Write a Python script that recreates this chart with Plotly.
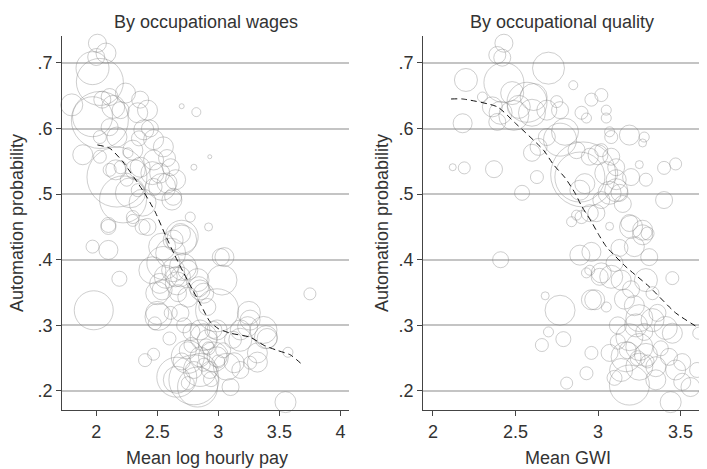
import plotly.graph_objects as go

# ---- Left panel: by occupational wages ----
wage_x = [2.01, 2.08, 2.00, 1.97, 2.03, 1.80, 2.03, 2.14, 2.05, 2.11, 2.24, 2.36, 2.42, 2.34, 2.20,
          2.70, 2.82, 2.93, 2.80, 1.89, 2.17, 2.28, 2.39, 2.47, 2.55, 2.17, 2.03, 2.11, 2.30, 2.36,
          2.47, 2.52, 2.61, 2.58, 2.63, 2.47, 2.25, 2.20, 2.11, 2.03, 2.26, 2.34, 2.77, 2.92, 2.30,
          2.10, 2.42, 2.69, 1.97, 2.10, 2.19, 1.98, 2.48, 2.40, 2.47, 3.75, 3.55, 3.57, 3.40, 3.25,
          3.32, 3.18, 3.13, 3.10, 2.83, 2.66, 2.99, 3.02, 2.55, 2.50, 2.50, 2.63, 2.69, 2.75, 2.85,
          2.91, 2.63, 2.85, 2.91, 2.96, 2.99, 2.85, 2.80, 2.93, 2.75, 2.75, 2.69, 2.61, 3.12, 3.18,
          3.26, 2.22, 2.10, 2.30, 2.38, 2.54, 2.70, 2.46, 2.57, 2.65, 2.75, 2.84, 2.54, 2.67, 2.38,
          2.54, 2.62, 2.65, 2.46, 2.32, 2.16, 3.05, 3.03, 2.70, 2.61, 2.71, 2.83, 2.66, 2.52, 2.88,
          3.24, 3.37, 3.39, 2.80, 2.66, 3.32, 3.18, 3.26, 2.51, 2.75, 2.96, 2.88, 2.99, 3.07, 2.85,
          1.97, 2.44, 2.58, 2.35, 2.72, 2.78, 2.92, 3.04, 2.60, 2.88, 2.94, 2.70, 2.90, 3.00, 2.78]
wage_y = [0.730, 0.715, 0.709, 0.692, 0.671, 0.636, 0.613, 0.633, 0.644, 0.648, 0.654, 0.644, 0.628, 0.624, 0.628,
          0.634, 0.625, 0.557, 0.541, 0.560, 0.526, 0.502, 0.598, 0.583, 0.572, 0.587, 0.587, 0.602, 0.567, 0.541,
          0.552, 0.532, 0.541, 0.517, 0.496, 0.511, 0.522, 0.541, 0.537, 0.557, 0.563, 0.506, 0.465, 0.450, 0.465,
          0.450, 0.450, 0.440, 0.420, 0.415, 0.371, 0.323, 0.303, 0.247, 0.256, 0.348, 0.183, 0.259, 0.280, 0.319,
          0.258, 0.293, 0.243, 0.206, 0.206, 0.221, 0.323, 0.404, 0.395, 0.349, 0.319, 0.384, 0.374, 0.343, 0.354,
          0.328, 0.430, 0.293, 0.278, 0.293, 0.252, 0.252, 0.232, 0.232, 0.262, 0.212, 0.319, 0.319, 0.278, 0.232,
          0.243, 0.492, 0.453, 0.460, 0.450, 0.420, 0.430, 0.384, 0.374, 0.374, 0.384, 0.359, 0.354, 0.349, 0.487,
          0.511, 0.491, 0.522, 0.532, 0.537, 0.537, 0.404, 0.369, 0.435, 0.410, 0.389, 0.369, 0.364, 0.364, 0.349,
          0.298, 0.293, 0.282, 0.217, 0.217, 0.244, 0.278, 0.308, 0.313, 0.252, 0.252, 0.282, 0.293, 0.237, 0.232,
          0.618, 0.600, 0.555, 0.585, 0.300, 0.270, 0.265, 0.262, 0.280, 0.240, 0.218, 0.245, 0.268, 0.245, 0.290]
wage_size = [18, 20, 17, 33, 47, 22, 57, 23, 17, 17, 20, 17, 20, 20, 17,
             5, 9, 4, 6, 20, 60, 30, 20, 20, 20, 20, 13, 17, 20, 20,
             20, 20, 17, 20, 17, 17, 13, 13, 13, 13, 10, 13, 10, 8, 13,
             15, 17, 20, 13, 19, 15, 39, 13, 13, 12, 12, 21, 10, 20, 23,
             20, 20, 20, 17, 40, 40, 43, 17, 33, 23, 23, 23, 20, 20, 20,
             17, 20, 20, 20, 17, 20, 20, 17, 17, 17, 13, 17, 13, 17, 17,
             13, 47, 15, 12, 15, 27, 30, 27, 23, 20, 20, 20, 20, 17, 27,
             27, 20, 20, 23, 20, 20, 19, 30, 33, 30, 27, 23, 23, 20, 20,
             20, 27, 23, 50, 27, 20, 23, 20, 27, 33, 30, 27, 20, 27, 33,
             40, 17, 17, 15, 15, 15, 13, 15, 13, 13, 15, 17, 15, 13, 17]
wage_fit_x = [2.01, 2.11, 2.22, 2.39, 2.48, 2.57, 2.64, 2.71, 2.79, 2.86, 2.93, 3.00,
              3.10, 3.26, 3.37, 3.48, 3.59, 3.70]
wage_fit_y = [0.575, 0.570, 0.549, 0.503, 0.474, 0.436, 0.408, 0.382, 0.354, 0.330, 0.306, 0.295,
              0.288, 0.282, 0.270, 0.262, 0.255, 0.238]

# ---- Right panel: by occupational quality ----
gwi_x = [2.43, 2.39, 2.42, 2.43, 2.20, 2.70, 2.85, 2.18, 2.30, 2.36, 2.41, 2.48, 2.52, 2.61, 2.60,
         2.69, 2.77, 2.75, 2.39, 2.57, 3.02, 2.96, 2.90, 2.93, 3.05, 3.05, 3.19, 3.28, 3.27, 3.07,
         3.08, 2.77, 2.80, 2.69, 2.60, 2.64, 2.87, 2.95, 3.02, 3.08, 2.12, 2.19, 2.37, 2.54, 2.63,
         2.89, 2.91, 2.89, 2.92, 3.05, 3.11, 3.11, 3.07, 3.13, 3.20, 3.29, 3.25, 3.40, 3.47, 3.40,
         2.84, 2.90, 2.99, 3.02, 3.19, 3.27, 3.30, 3.11, 2.95, 3.07, 3.20, 2.89, 2.96, 3.13, 3.22,
         3.31, 3.27, 3.45, 2.95, 3.01, 3.08, 3.14, 3.29, 3.20, 3.33, 2.96, 3.05, 2.77, 2.68, 2.70,
         2.79, 2.66, 2.96, 2.93, 2.81, 3.25, 3.33, 3.41, 3.45, 3.36, 3.61, 3.19, 3.25, 3.17, 3.29,
         3.07, 3.25, 3.14, 3.19, 3.35, 3.43, 3.51, 3.47, 3.60, 3.56, 3.51, 3.44, 3.35, 2.41, 2.87,
         2.49, 2.98, 2.93, 3.02, 3.10, 3.16, 3.23, 3.12, 3.28, 3.22, 3.10, 3.38, 3.00, 3.15,
         3.18, 3.24, 3.12, 3.30]
gwi_y = [0.730, 0.712, 0.708, 0.670, 0.674, 0.692, 0.666, 0.608, 0.648, 0.633, 0.624, 0.654, 0.633, 0.648, 0.624,
         0.628, 0.628, 0.641, 0.610, 0.640, 0.651, 0.644, 0.624, 0.616, 0.628, 0.616, 0.590, 0.587, 0.578, 0.595,
         0.587, 0.583, 0.595, 0.587, 0.563, 0.572, 0.567, 0.557, 0.567, 0.557, 0.541, 0.540, 0.538, 0.502, 0.526,
         0.526, 0.530, 0.506, 0.516, 0.532, 0.522, 0.541, 0.502, 0.502, 0.526, 0.522, 0.545, 0.540, 0.546, 0.491,
         0.458, 0.465, 0.471, 0.491, 0.456, 0.445, 0.440, 0.506, 0.471, 0.451, 0.450, 0.407, 0.412, 0.418, 0.420,
         0.404, 0.438, 0.372, 0.384, 0.374, 0.374, 0.369, 0.369, 0.355, 0.349, 0.339, 0.328, 0.323, 0.345, 0.290,
         0.279, 0.270, 0.258, 0.227, 0.212, 0.311, 0.308, 0.296, 0.288, 0.319, 0.288, 0.282, 0.267, 0.252, 0.255,
         0.258, 0.237, 0.232, 0.209, 0.237, 0.252, 0.244, 0.232, 0.232, 0.206, 0.214, 0.183, 0.217, 0.400, 0.468,
         0.620, 0.339, 0.380, 0.380, 0.395, 0.340, 0.300, 0.300, 0.290, 0.330, 0.220, 0.265, 0.560, 0.485,
         0.262, 0.250, 0.275, 0.245]
gwi_size = [18, 17, 17, 40, 23, 32, 9, 19, 10, 20, 23, 23, 23, 27, 27,
            20, 17, 12, 17, 40, 13, 13, 13, 10, 10, 10, 20, 10, 8, 10,
            13, 33, 27, 17, 17, 17, 17, 17, 13, 17, 7, 12, 17, 15, 13,
            50, 65, 20, 20, 23, 20, 17, 23, 17, 17, 13, 8, 13, 12, 17,
            10, 13, 17, 17, 17, 20, 13, 23, 17, 8, 23, 20, 19, 17, 20,
            17, 20, 13, 10, 17, 23, 20, 23, 17, 13, 20, 10, 30, 8, 10,
            15, 13, 13, 13, 12, 27, 23, 23, 20, 17, 12, 27, 27, 30, 23,
            17, 27, 23, 40, 20, 17, 17, 20, 15, 19, 17, 21, 20, 16, 10,
            30, 20, 10, 20, 17, 20, 23, 17, 17, 20, 15, 15, 20, 17,
            17, 15, 15, 13]
gwi_fit_x = [2.11, 2.18, 2.39, 2.50, 2.67, 2.73, 2.80, 2.86, 2.90, 2.96, 3.00, 3.05, 3.17, 3.31, 3.47, 3.61]
gwi_fit_y = [0.645, 0.645, 0.633, 0.608, 0.567, 0.545, 0.525, 0.502, 0.482, 0.458, 0.440, 0.420, 0.389, 0.359, 0.319, 0.296]

y_ticks = [0.2, 0.3, 0.4, 0.5, 0.6, 0.7]
y_ticktext = [".2", ".3", ".4", ".5", ".6", ".7"]
wage_ticks = [2, 2.5, 3, 3.5, 4]
wage_ticktext = ["2", "2.5", "3", "3.5", "4"]
gwi_ticks = [2, 2.5, 3, 3.5]
gwi_ticktext = ["2", "2.5", "3", "3.5"]

FONT = "Liberation Sans, Arial, sans-serif"
TXT = "#333333"
FS = 18
marker_line = dict(color="rgba(130,130,130,0.55)", width=1)

fig = go.Figure()
fig.add_trace(go.Scatter(x=wage_x, y=wage_y, mode="markers", xaxis="x", yaxis="y",
                         marker=dict(size=wage_size, color="rgba(0,0,0,0)", line=marker_line),
                         cliponaxis=False, showlegend=False, hoverinfo="skip"))
fig.add_trace(go.Scatter(x=wage_fit_x, y=wage_fit_y, mode="lines", xaxis="x", yaxis="y",
                         line=dict(color="#111111", width=1, dash="6px,4px", shape="spline", smoothing=0.6),
                         showlegend=False, hoverinfo="skip"))
fig.add_trace(go.Scatter(x=gwi_x, y=gwi_y, mode="markers", xaxis="x2", yaxis="y2",
                         marker=dict(size=gwi_size, color="rgba(0,0,0,0)", line=marker_line),
                         cliponaxis=False, showlegend=False, hoverinfo="skip"))
fig.add_trace(go.Scatter(x=gwi_fit_x, y=gwi_fit_y, mode="lines", xaxis="x2", yaxis="y2",
                         line=dict(color="#111111", width=1, dash="6px,4px", shape="spline", smoothing=0.6),
                         showlegend=False, hoverinfo="skip"))

# The page body has an 8px default margin, so the figure is drawn 8px in from
# the window's top-left corner; the figure is sized to fill the rest.
OFF = 8
W, H = 707 - OFF, 469 - OFF


def fx(px):
    return (px - OFF) / W


def fy(py):
    return 1 - (py - OFF) / H


ydom = [fy(410), fy(36)]
common_x = dict(showline=True, linecolor="#444", linewidth=1, ticks="outside", ticklen=5,
                tickcolor="#444", showgrid=False, zeroline=False, automargin=False,
                tickfont=dict(family=FONT, size=FS, color=TXT))
common_y = dict(showline=True, linecolor="#444", linewidth=1, ticks="outside", ticklen=5,
                tickcolor="#444", showgrid=True, gridcolor="#c4c4c4", gridwidth=2, zeroline=False,
                automargin=False, tickvals=y_ticks, ticktext=y_ticktext, range=[0.171, 0.741],
                tickfont=dict(family=FONT, size=FS, color=TXT))


def ann(text, px, py, angle=0):
    return dict(text=text, x=fx(px), y=fy(py), xref="paper", yref="paper",
                xanchor="center", yanchor="middle", showarrow=False, textangle=angle,
                font=dict(family=FONT, size=FS, color=TXT))


fig.update_layout(
    template="none",
    width=W, height=H, autosize=False, margin=dict(l=0, r=0, t=0, b=0, pad=0),
    paper_bgcolor="white", plot_bgcolor="white",
    xaxis=dict(domain=[fx(62), fx(349)], range=[1.72, 4.07], tickvals=wage_ticks,
               ticktext=wage_ticktext, anchor="y", **common_x),
    yaxis=dict(domain=ydom, anchor="x", **common_y),
    xaxis2=dict(domain=[fx(423), 1.0], range=[1.94, 3.66], tickvals=gwi_ticks,
                ticktext=gwi_ticktext, anchor="y2", **common_x),
    yaxis2=dict(domain=ydom, anchor="x2", **common_y),
    annotations=[
        ann("By occupational wages", 206, 22),
        ann("By occupational quality", 562, 22),
        ann("Mean log hourly pay", 207, 458),
        ann("Mean GWI", 568, 458),
        ann("Automation probability", 17, 223, -90),
        ann("Automation probability", 382, 223, -90),
    ],
)

fig.write_html("out.html")
